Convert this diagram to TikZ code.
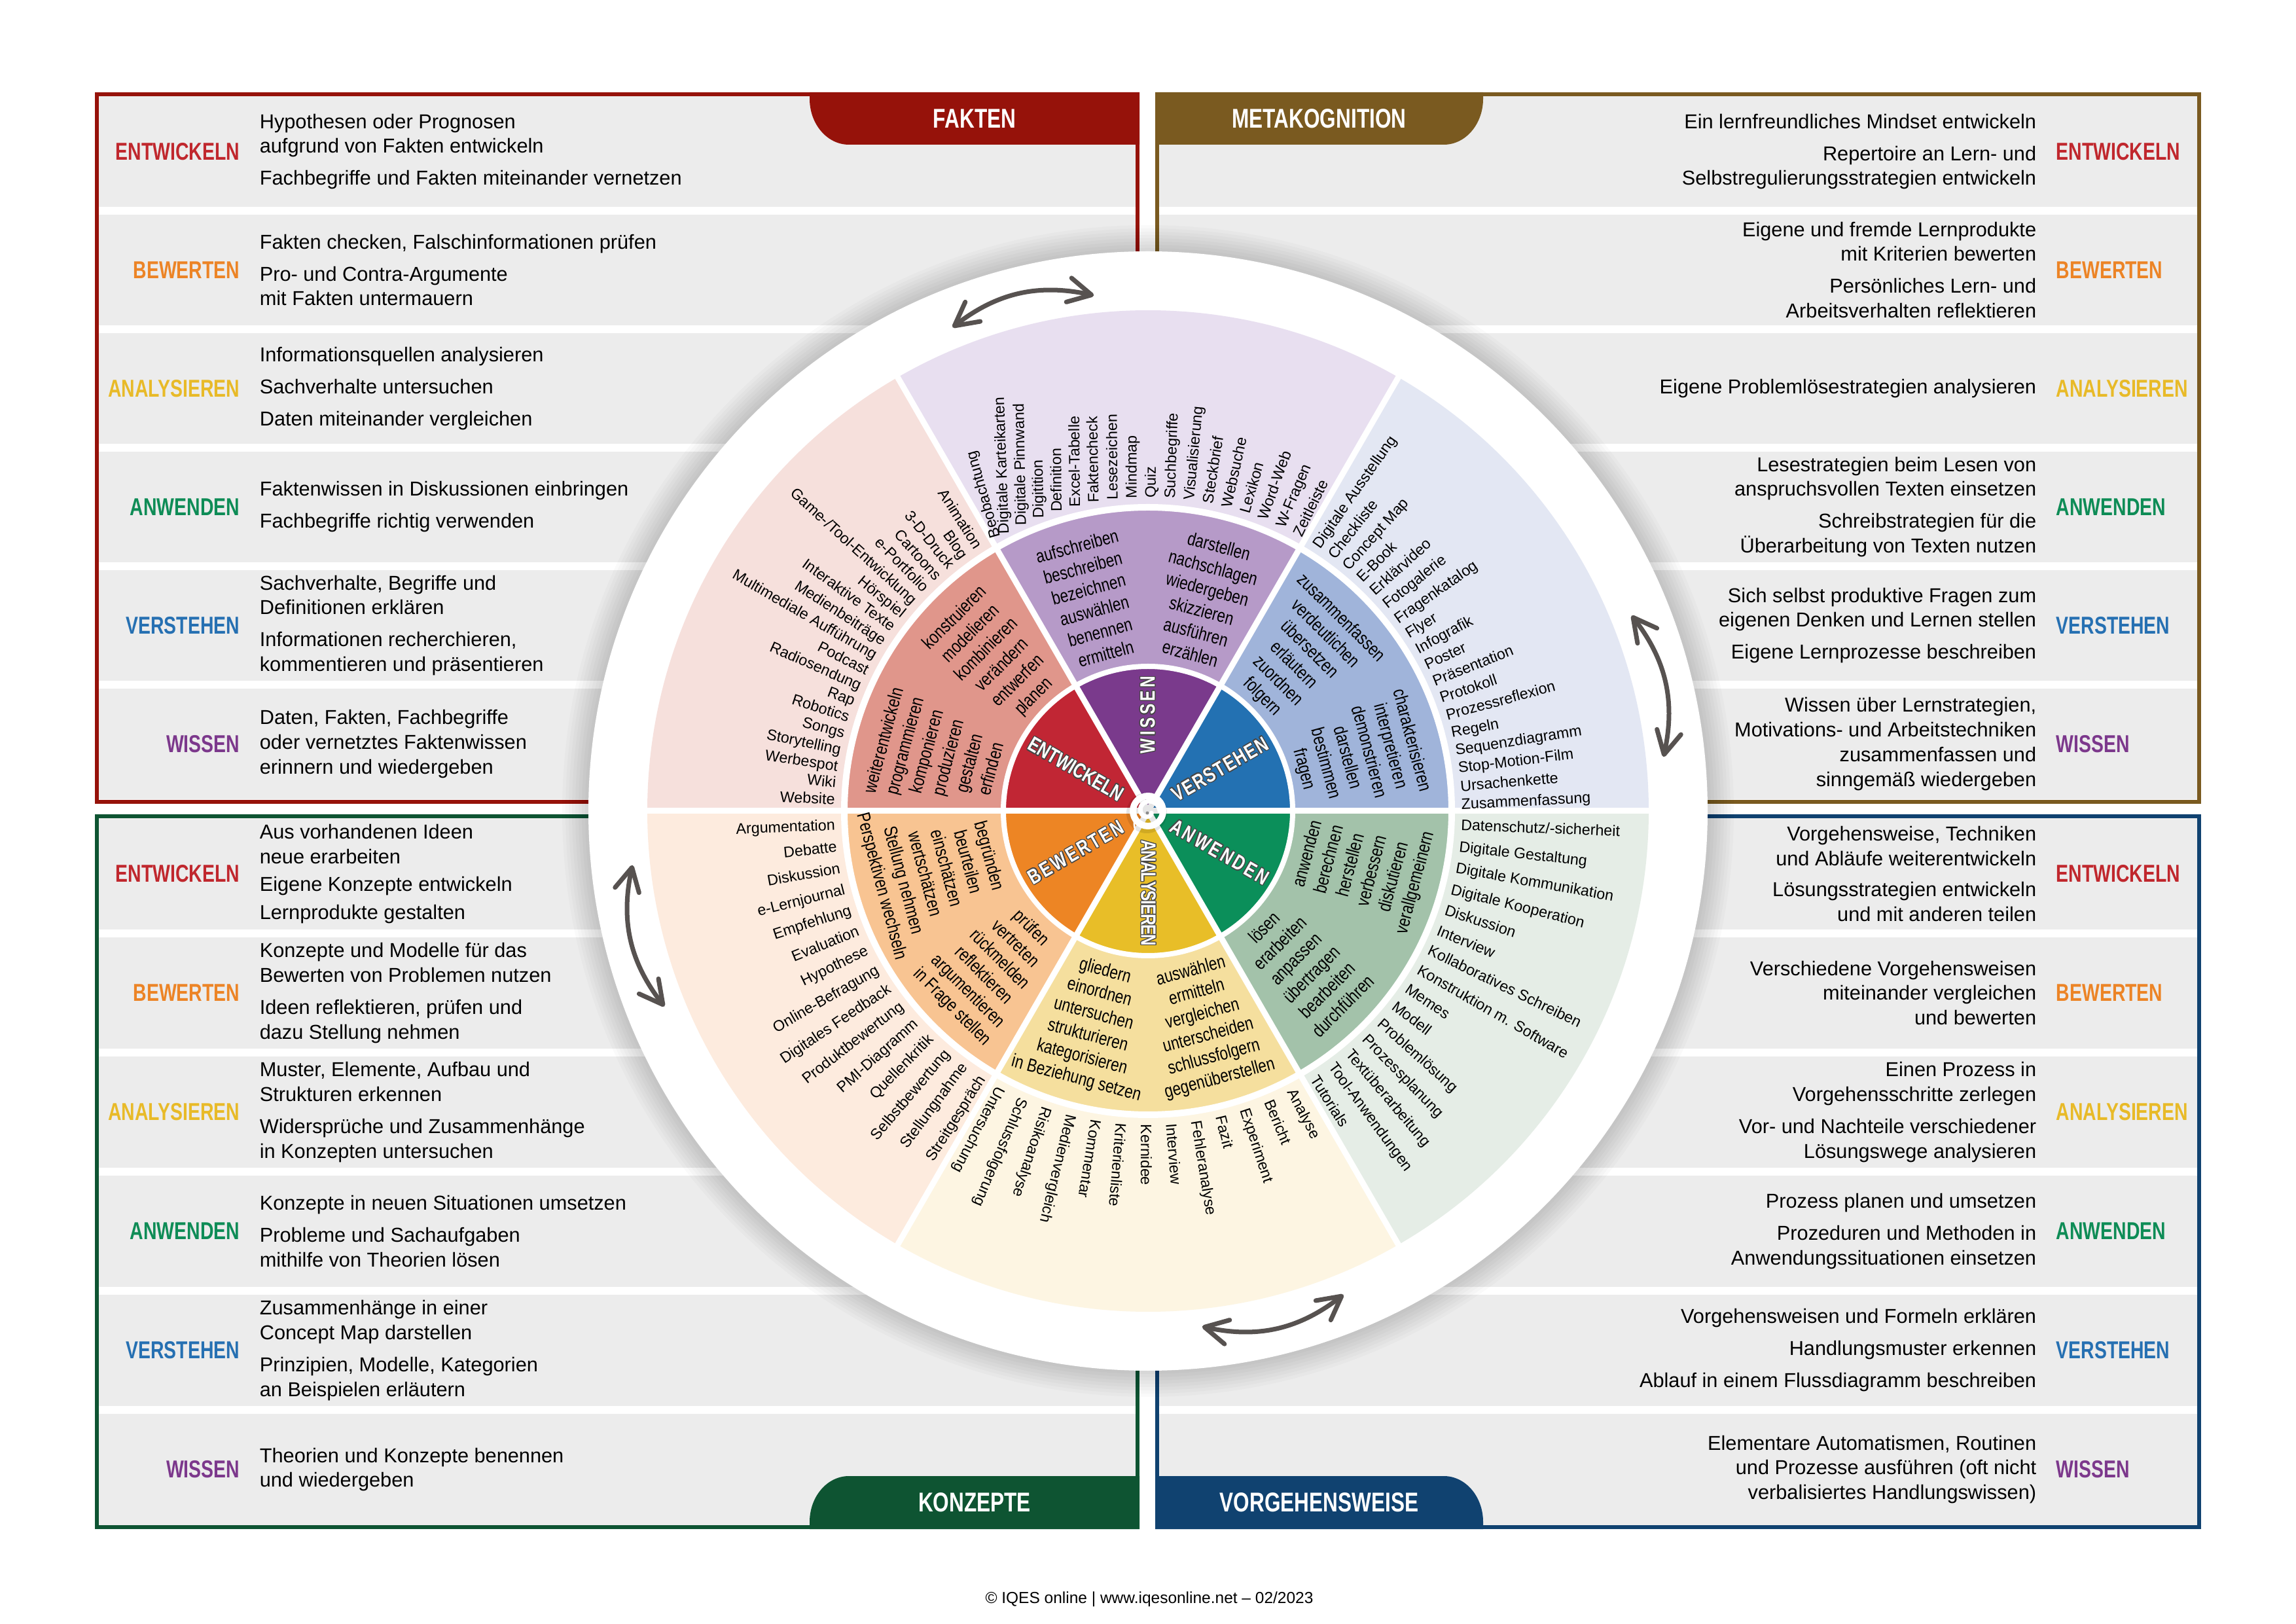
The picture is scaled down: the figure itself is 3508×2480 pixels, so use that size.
\documentclass[tikz,border=0pt]{standalone}
\usepackage{fontspec}
\setmainfont{Liberation Sans}
\newfontfamily\condfont[FakeStretch=0.76]{Liberation Sans}
\newfontfamily\narrowfont[FakeStretch=0.8]{Liberation Sans}
\usepackage[copies]{contour}
\contourlength{0.32pt}
\contournumber{12}
\usetikzlibrary{arrows.meta}
\newdimen\pxu \pxu=0.24bp
\newdimen\lspace
\newcommand\lsp{\kern\lspace}

\definecolor{cFak}{RGB}{150,18,10}
\definecolor{cMeta}{RGB}{122,90,32}
\definecolor{cKon}{RGB}{14,84,50}
\definecolor{cVor}{RGB}{16,66,112}
\definecolor{rowg}{RGB}{236,236,236}
\definecolor{lEnt}{RGB}{192,39,45}
\definecolor{lBew}{RGB}{236,132,38}
\definecolor{lAna}{RGB}{232,186,40}
\definecolor{lAnw}{RGB}{14,140,86}
\definecolor{lVer}{RGB}{38,112,178}
\definecolor{lWis}{RGB}{124,56,140}
\definecolor{iEnt}{RGB}{193,38,52}
\definecolor{iWis}{RGB}{122,58,140}
\definecolor{iVer}{RGB}{35,113,178}
\definecolor{iAnw}{RGB}{11,143,90}
\definecolor{iAna}{RGB}{232,190,40}
\definecolor{iBew}{RGB}{237,133,36}
\definecolor{mEnt}{RGB}{224,150,139}
\definecolor{mWis}{RGB}{182,154,200}
\definecolor{mVer}{RGB}{160,180,218}
\definecolor{mAnw}{RGB}{163,194,170}
\definecolor{mAna}{RGB}{245,223,158}
\definecolor{mBew}{RGB}{248,196,146}
\definecolor{oEnt}{RGB}{246,224,220}
\definecolor{oWis}{RGB}{232,223,240}
\definecolor{oVer}{RGB}{227,231,243}
\definecolor{oAnw}{RGB}{229,237,230}
\definecolor{oAna}{RGB}{253,245,226}
\definecolor{oBew}{RGB}{253,235,222}
\definecolor{arrc}{RGB}{87,82,80}
\definecolor{lblc}{RGB}{70,70,70}

\tikzset{
  ptxt/.style={font=\fontsize{7.4}{9.1}\selectfont, inner sep=0pt, text=black},
  plbl/.style={font=\condfont\bfseries\fontsize{9}{10}\selectfont, inner sep=0pt},
  tabtxt/.style={font=\condfont\bfseries\fontsize{10}{11}\selectfont, text=white, inner sep=0pt},
  owt/.style={font=\fontsize{5.6}{6}\selectfont, inner sep=0pt, text=black},
  mtxt/.style={font=\narrowfont\fontsize{6.8}{7.5}\selectfont, inner sep=0pt, anchor=mid, text=black},
  wlbl/.style={font=\condfont\bfseries\fontsize{7.7}{8}\selectfont, inner sep=0pt, text=white},
  cyc/.style={draw=arrc, line width=7\pxu, line cap=round,
    arrows={Straight Barb[length=8.5bp,width=9bp,round]-Straight Barb[length=8.5bp,width=9bp,round]}},
  sepline/.style={draw=white, line width=9\pxu},
}

\newcommand\lrow[4]{%
  \node[plbl,text=#2,anchor=east] at (367,#1) {#3};
  \node[ptxt,anchor=west,align=left] at (396,#1) {#4};}
\newcommand\rrow[4]{%
  \node[ptxt,anchor=east,align=right] at (3112,#1) {#4};
  \node[plbl,text=#2,anchor=west] at (3141,#1) {#3};}
\newcommand\owd[3]{\node[owt,anchor=mid west,rotate=#2] at (#1:478) {#3};}
\newcommand\rwd[2]{\node[owt,anchor=mid west,rotate=#1] at (#1:478) {#2};}
\newcommand\iwd[2]{\node[owt,anchor=mid east,rotate={#1-180}] at (#1:478) {#2};}
\newcommand\mblk[5]{\foreach \w [count=\k from 0] in {#5}{\node[mtxt,rotate=#2] at (#1:{#3+(#4)*\k}) {\w};}}

\begin{document}
\begin{tikzpicture}[x=0.24bp,y=0.24bp]
\useasboundingbox (0,0) rectangle (3508,2480);
\fill[white] (0,0) rectangle (3508,2480);

% ---------- panel rows ----------
\foreach \i in {0,...,5}{
  \fill[rowg] (151,{2333-\i*181}) rectangle (1735,{2333-\i*181-169});
  \fill[rowg] (1771,{2333-\i*181}) rectangle (3357,{2333-\i*181-169});
  \fill[rowg] (151,{1230-\i*182}) rectangle (1735,{1230-\i*182-170});
  \fill[rowg] (1771,{1230-\i*182}) rectangle (3357,{1230-\i*182-170});
}
% ---------- frames ----------
\draw[cFak, line width=6\pxu] (148,1255) rectangle (1738,2336);
\draw[cMeta, line width=6\pxu] (1768,1255) rectangle (3360,2336);
\draw[cKon, line width=6\pxu] (148,147) rectangle (1738,1233);
\draw[cVor, line width=6\pxu] (1768,147) rectangle (3360,1233);

% ---------- tabs ----------
\fill[cFak] (1237,2339) -- (1741,2339) -- (1741,2259) -- (1297,2259)
  arc[start angle=270,end angle=180,x radius=60,y radius=70] -- cycle;
\node[tabtxt] (tabF) at (1489,2299) {FAKTEN};
\fill[cMeta] (1765,2339) -- (2266,2339) -- (2266,2329)
  arc[start angle=0,end angle=-90,x radius=60,y radius=70] -- (1765,2259) -- cycle;
\node[tabtxt] (tabM) at (2015.5,2299) {METAKOGNITION};
\fill[cKon] (1237,144) -- (1741,144) -- (1741,225) -- (1297,225)
  arc[start angle=90,end angle=180,x radius=60,y radius=70] -- cycle;
\node[tabtxt] (tabK) at (1489,184.5) {KONZEPTE};
\fill[cVor] (1765,144) -- (2266,144) -- (2266,155)
  arc[start angle=0,end angle=90,x radius=60,y radius=70] -- (1765,225) -- cycle;
\node[tabtxt] (tabV) at (2015.5,184.5) {VORGEHENSWEISE};

% ---------- FAKTEN ----------
\lrow{2248.5}{lEnt}{ENTWICKELN}{Hypothesen oder Prognosen\\aufgrund von Fakten entwickeln\\[2.7pt]Fachbegriffe und Fakten miteinander vernetzen}
\lrow{2067.5}{lBew}{BEWERTEN}{Fakten checken, Falschinformationen prüfen\\[2.7pt]Pro- und Contra-Argumente\\mit Fakten untermauern}
\lrow{1886.5}{lAna}{ANALYSIEREN}{Informationsquellen analysieren\\[2.7pt]Sachverhalte untersuchen\\[2.7pt]Daten miteinander vergleichen}
\lrow{1705.5}{lAnw}{ANWENDEN}{Faktenwissen in Diskussionen einbringen\\[2.7pt]Fachbegriffe richtig verwenden}
\lrow{1524.5}{lVer}{VERSTEHEN}{Sachverhalte, Begriffe und\\Definitionen erklären\\[2.7pt]Informationen recherchieren,\\kommentieren und präsentieren}
\lrow{1343.5}{lWis}{WISSEN}{Daten, Fakten, Fachbegriffe\\oder vernetztes Faktenwissen\\erinnern und wiedergeben}

% ---------- METAKOGNITION ----------
\rrow{2248.5}{lEnt}{ENTWICKELN}{Ein lernfreundliches Mindset entwickeln\\[2.7pt]Repertoire an Lern- und\\Selbstregulierungsstrategien entwickeln}
\rrow{2067.5}{lBew}{BEWERTEN}{Eigene und fremde Lernprodukte\\mit Kriterien bewerten\\[2.7pt]Persönliches Lern- und\\Arbeitsverhalten reflektieren}
\rrow{1886.5}{lAna}{ANALYSIEREN}{Eigene Problemlösestrategien analysieren}
\rrow{1705.5}{lAnw}{ANWENDEN}{Lesestrategien beim Lesen von\\anspruchsvollen Texten einsetzen\\[2.7pt]Schreibstrategien für die\\Überarbeitung von Texten nutzen}
\rrow{1524.5}{lVer}{VERSTEHEN}{Sich selbst produktive Fragen zum\\eigenen Denken und Lernen stellen\\[2.7pt]Eigene Lernprozesse beschreiben}
\rrow{1343.5}{lWis}{WISSEN}{Wissen über Lernstrategien,\\Motivations- und Arbeitstechniken\\zusammenfassen und\\sinngemäß wiedergeben}

% ---------- KONZEPTE ----------
\lrow{1145}{lEnt}{ENTWICKELN}{Aus vorhandenen Ideen\\neue erarbeiten\\[1.2pt]Eigene Konzepte entwickeln\\[1.2pt]Lernprodukte gestalten}
\lrow{963}{lBew}{BEWERTEN}{Konzepte und Modelle für das\\Bewerten von Problemen nutzen\\[2.7pt]Ideen reflektieren, prüfen und\\dazu Stellung nehmen}
\lrow{781}{lAna}{ANALYSIEREN}{Muster, Elemente, Aufbau und\\Strukturen erkennen\\[2.7pt]Widersprüche und Zusammenhänge\\in Konzepten untersuchen}
\lrow{599}{lAnw}{ANWENDEN}{Konzepte in neuen Situationen umsetzen\\[2.7pt]Probleme und Sachaufgaben\\mithilfe von Theorien lösen}
\lrow{417}{lVer}{VERSTEHEN}{Zusammenhänge in einer\\Concept Map darstellen\\[2.7pt]Prinzipien, Modelle, Kategorien\\an Beispielen erläutern}
\lrow{235}{lWis}{WISSEN}{Theorien und Konzepte benennen\\und wiedergeben}

% ---------- VORGEHENSWEISE ----------
\rrow{1145}{lEnt}{ENTWICKELN}{Vorgehensweise, Techniken\\und Abläufe weiterentwickeln\\[2.2pt]Lösungsstrategien entwickeln\\und mit anderen teilen}
\rrow{963}{lBew}{BEWERTEN}{Verschiedene Vorgehensweisen\\miteinander vergleichen\\und bewerten}
\rrow{781}{lAna}{ANALYSIEREN}{Einen Prozess in\\Vorgehensschritte zerlegen\\[2.7pt]Vor- und Nachteile verschiedener\\Lösungswege analysieren}
\rrow{599}{lAnw}{ANWENDEN}{Prozess planen und umsetzen\\[2.7pt]Prozeduren und Methoden in\\Anwendungssituationen einsetzen}
\rrow{417}{lVer}{VERSTEHEN}{Vorgehensweisen und Formeln erklären\\[2.7pt]Handlungsmuster erkennen\\[2.7pt]Ablauf in einem Flussdiagramm beschreiben}
\rrow{235}{lWis}{WISSEN}{Elementare Automatismen, Routinen\\und Prozesse ausführen (oft nicht\\verbalisiertes Handlungswissen)}

% ---------- wheel ----------
\begin{scope}[shift={(1754,1241)}]
  \foreach \k in {1,...,8} \fill[black, opacity=0.018] (0,0) circle ({855+5*\k});
  \fill[white] (0,0) circle (855);
  \foreach \a/\co/\cm/\ci in {0/oVer/mVer/iVer, 60/oWis/mWis/iWis, 120/oEnt/mEnt/iEnt,
      180/oBew/mBew/iBew, 240/oAna/mAna/iAna, 300/oAnw/mAnw/iAnw}{
    \fill[\co] (0,0) -- (\a:765) arc[start angle=\a, delta angle=60, radius=765] -- cycle;
    \fill[\cm] (0,0) -- (\a:464) arc[start angle=\a, delta angle=60, radius=464] -- cycle;
    \fill[\ci] (0,0) -- (\a:221) arc[start angle=\a, delta angle=60, radius=221] -- cycle;
  }
  \draw[white, line width=10\pxu] (0,0) circle (464);
  \draw[white, line width=8\pxu] (0,0) circle (221);
  \foreach \a in {0,60,...,300} \draw[sepline] (0,0) -- (\a:766);

  % outer ring: WISSEN
  \owd{119.6}{106}{Beobachtung}
  \owd{117.9}{92}{Digitale Karteikarten}
  \owd{114.4}{91}{Digitale Pinnwand}
  \owd{110.9}{91}{Digitition}
  \owd{107.4}{90.5}{Definition}
  \owd{103.9}{90.5}{Excel-Tabelle}
  \owd{100.4}{91}{Faktencheck}
  \owd{96.9}{90.5}{Lesezeichen}
  \owd{93.4}{90}{Mindmap}
  \owd{89.9}{90}{Quiz}
  \owd{86.4}{88}{Suchbegriffe}
  \owd{82.9}{84.5}{Visualisierung}
  \owd{79.4}{81}{Steckbrief}
  \owd{75.9}{77.5}{Websuche}
  \owd{72.4}{74}{Lexikon}
  \owd{68.9}{70.5}{Word-Web}
  \owd{65.4}{67}{W-Fragen}
  \owd{61.9}{64}{Zeitleiste}
  % outer ring: VERSTEHEN
  \owd{57.9}{55}{Digitale Ausstellung}
  \owd{54.6}{51.6}{Checkliste}
  \owd{51.3}{48.3}{Concept Map}
  \owd{48.0}{45}{E-Book}
  \owd{44.7}{41.7}{Erklärvideo}
  \owd{41.4}{38.4}{Fotogalerie}
  \owd{38.0}{35}{Fragenkatalog}
  \owd{34.7}{31.7}{Flyer}
  \owd{31.4}{28.4}{Infografik}
  \owd{28.1}{25.1}{Poster}
  \owd{24.8}{21.8}{Präsentation}
  \owd{21.5}{18.5}{Protokoll}
  \owd{18.2}{15.2}{Prozessreflexion}
  \owd{14.9}{11}{Regeln}
  \owd{11.6}{9}{Sequenzdiagramm}
  \owd{8.3}{7}{Stop-Motion-Film}
  \owd{4.9}{5}{Ursachenkette}
  \owd{1.6}{3}{Zusammenfassung}
  % outer ring: ANWENDEN
  \rwd{-2.2}{Datenschutz/-sicherheit}
  \rwd{-6.2}{Digitale Gestaltung}
  \rwd{-10.1}{Digitale Kommunikation}
  \rwd{-14.1}{Digitale Kooperation}
  \rwd{-18.0}{Diskussion}
  \rwd{-22.0}{Interview}
  \rwd{-25.9}{Kollaboratives Schreiben}
  \rwd{-29.9}{Konstruktion m. Software}
  \rwd{-33.9}{Memes}
  \rwd{-37.8}{Modell}
  \rwd{-41.8}{Problemlösung}
  \rwd{-45.7}{Prozessplanung}
  \rwd{-49.7}{Textüberarbeitung}
  \rwd{-53.6}{Tool-Anwendungen}
  \rwd{-57.6}{Tutorials}
  % outer ring: ANALYSIEREN
  \rwd{-62.4}{Analyse}
  \rwd{-67.0}{Bericht}
  \rwd{-71.6}{Experiment}
  \rwd{-76.2}{Fazit}
  \rwd{-80.8}{Fehleranalyse}
  \rwd{-85.4}{Interview}
  \rwd{-90.0}{Kernidee}
  \rwd{-94.6}{Kriterienliste}
  \rwd{-99.2}{Kommentar}
  \rwd{-103.8}{Medienvergleich}
  \rwd{-108.4}{Risikoanalyse}
  \rwd{-113.0}{Schlussfolgerung}
  \rwd{-117.6}{Untersuchung}
  % outer ring: BEWERTEN
  \iwd{182.2}{Argumentation}
  \iwd{186.2}{Debatte}
  \iwd{190.1}{Diskussion}
  \iwd{194.1}{e-Lernjournal}
  \iwd{198.0}{Empfehlung}
  \iwd{202.0}{Evaluation}
  \iwd{205.9}{Hypothese}
  \iwd{209.9}{Online-Befragung}
  \iwd{213.9}{Digitales Feedback}
  \iwd{217.8}{Produktbewertung}
  \iwd{221.8}{PMI-Diagramm}
  \iwd{225.7}{Quellenkritik}
  \iwd{229.7}{Selbstbewertung}
  \iwd{233.6}{Stellungnahme}
  \iwd{237.6}{Streitgespräch}
  % outer ring: ENTWICKELN
  \iwd{122.4}{Animation}
  \iwd{125.5}{Blog}
  \iwd{128.5}{3-D-Druck}
  \iwd{131.6}{Cartoons}
  \iwd{134.6}{e-Portfolio}
  \iwd{137.7}{Game-/Tool-Entwicklung}
  \iwd{140.8}{Hörspiel}
  \iwd{143.8}{Interaktive Texte}
  \iwd{146.9}{Medienbeiträge}
  \iwd{149.9}{Multimediale Aufführung}
  \iwd{153.0}{Podcast}
  \iwd{156.1}{Radiosendung}
  \iwd{159.1}{Rap}
  \iwd{162.2}{Robotics}
  \iwd{165.2}{Songs}
  \iwd{168.3}{Storytelling}
  \iwd{171.4}{Werbespot}
  \iwd{174.4}{Wiki}
  \iwd{177.5}{Website}

  % middle ring
  \mblk{105}{15}{420}{-34}{aufschreiben,beschreiben,bezeichnen,auswählen,benennen,ermitteln}
  \mblk{75}{-15}{420}{-34}{darstellen,nachschlagen,wiedergeben,skizzieren,ausführen,erzählen}
  \mblk{45}{-45}{420}{-34}{zusammenfassen,verdeutlichen,übersetzen,erläutern,zuordnen,folgern}
  \mblk{15}{-75}{420}{-34}{charakterisieren,interpretieren,demonstrieren,darstellen,bestimmen,fragen}
  \mblk{135}{45}{420}{-34}{konstruieren,modelieren,kombinieren,verändern,entwerfen,planen}
  \mblk{165}{75}{420}{-34}{weiterentwickeln,programmieren,komponieren,produzieren,gestalten,erfinden}
  \mblk{345}{75}{250}{34}{anwenden,berechnen,herstellen,verbessern,diskutieren,verallgemeinern}
  \mblk{315}{45}{250}{34}{lösen,erarbeiten,anpassen,übertragen,bearbeiten,durchführen}
  \mblk{285}{15}{250}{34}{auswählen,ermitteln,vergleichen,unterscheiden,schlussfolgern,gegenüberstellen}
  \mblk{255}{-15}{250}{34}{gliedern,einordnen,untersuchen,strukturieren,kategorisieren,in Beziehung setzen}
  \mblk{225}{-45}{250}{34}{prüfen,vertreten,rückmelden,reflektieren,argumentieren,in Frage stellen}
  \mblk{195.8}{-75}{250}{34}{begründen,beurteilen,einschätzen,wertschätzen,Stellung nehmen,Perspektiven wechseln}

  % inner labels
  \node[wlbl,rotate=90,anchor=east] (lbWis) at (90:207)
    {\contour{lblc}{\lspace=1.1pt W\lsp I\lsp S\lsp S\lsp E\lsp N}};
  \node[wlbl,rotate=30,anchor=east] (lbVer) at (30:210)
    {\contour{lblc}{\lspace=0.45pt V\lsp E\lsp R\lsp S\lsp T\lsp E\lsp H\lsp E\lsp N}};
  \node[wlbl,rotate=-30,anchor=east] (lbAnw) at (-30:211)
    {\contour{lblc}{\lspace=0.85pt A\lsp N\lsp W\lsp E\lsp N\lsp D\lsp E\lsp N}};
  \node[wlbl,rotate=-90,anchor=east] (lbAna) at (-90:207)
    {\contour{lblc}{\lspace=-0.3pt A\lsp N\lsp A\lsp L\lsp Y\lsp S\lsp I\lsp E\lsp R\lsp E\lsp N}};
  \node[wlbl,rotate=30,anchor=west] (lbBew) at (210:209)
    {\contour{lblc}{\lspace=0.8pt B\lsp E\lsp W\lsp E\lsp R\lsp T\lsp E\lsp N}};
  \node[wlbl,rotate=-30,anchor=west] (lbEnt) at (150:209)
    {\contour{lblc}{ENTWICKELN}};

  % center spiral
  \fill[black, opacity=0.10] (-2,-3) circle (31);
  \fill[white] (200:20) .. controls (215:30) and (228:34) .. (242:39)
    .. controls (228:29) and (215:25) .. (207:25) -- cycle;
  \draw[white, line width=10\pxu] (0,0) circle (23);
  \draw[white, line width=7\pxu, line cap=round] plot[domain=0:330, samples=60, smooth]
    ({(18-0.036*\x)*cos(\x)}, {(18-0.036*\x)*sin(\x)});
  \fill[black!45] (-1,-3) circle (2.5);

  % cycle arrows
  \coordinate (aT1) at (112:797); \coordinate (aT2) at (96:792);
  \coordinate (aR1) at (22:797);  \coordinate (aR2) at (6:792);
  \coordinate (aB1) at (-68:797); \coordinate (aB2) at (-84:792);
  \coordinate (aL1) at (202:797); \coordinate (aL2) at (186:792);
  \draw[cyc] (aT1) to[bend left=25] (aT2);
  \draw[cyc] (aR1) to[bend left=25] (aR2);
  \draw[cyc] (aB1) to[bend left=25] (aB2);
  \draw[cyc] (aL1) to[bend left=25] (aL2);
\end{scope}

% footer
\node[font=\fontsize{5.9}{7}\selectfont, inner sep=0pt] (foot) at (1756,37)
  {© IQES online | www.iqesonline.net – 02/2023};
\end{tikzpicture}
\end{document}
